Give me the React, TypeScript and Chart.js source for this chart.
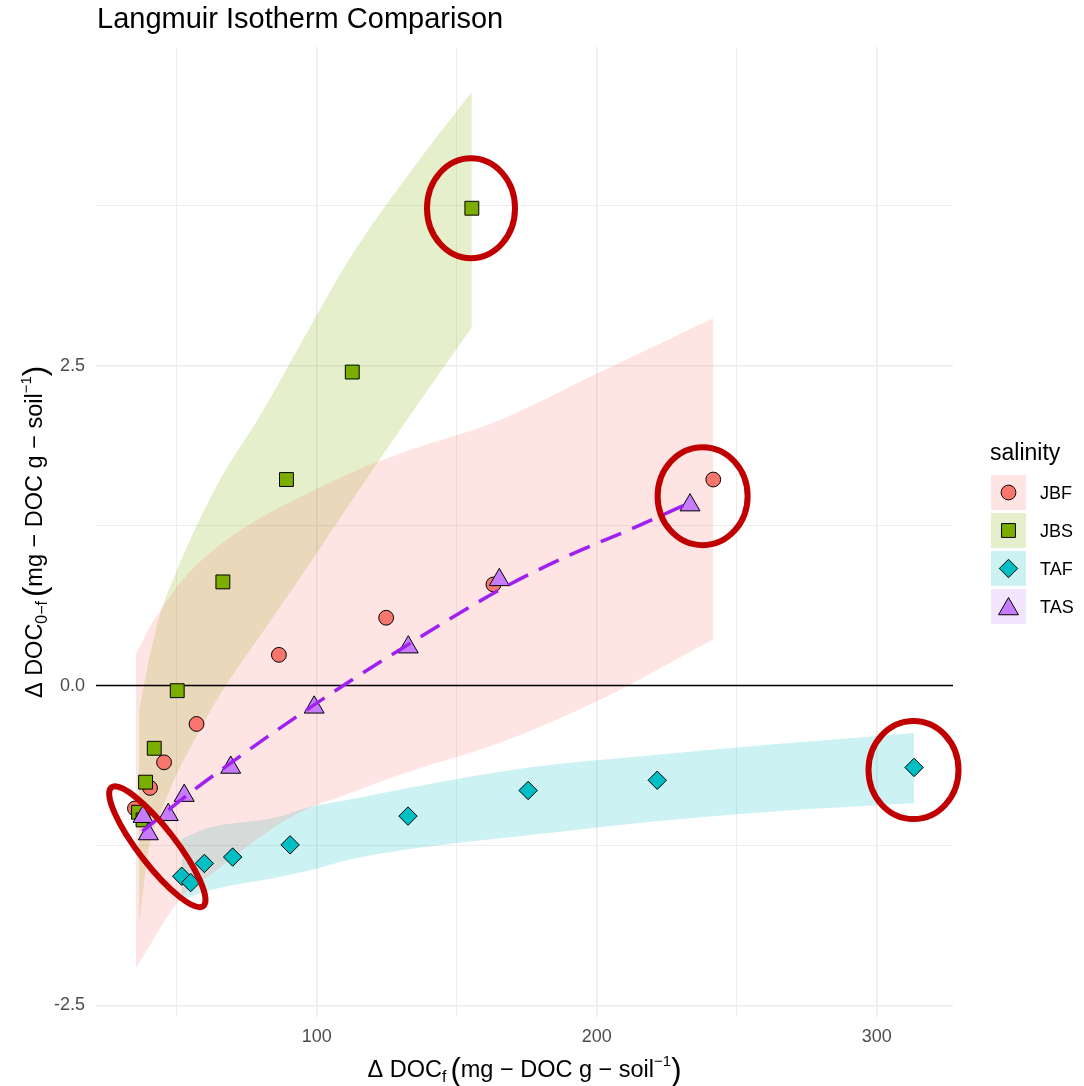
import React, { useEffect, useRef } from 'react';
import { Chart, registerables } from 'chart.js';
import { drawPoint } from 'chart.js/helpers';

Chart.register(...registerables);

const W = 1084;
const H = 1086;
const FONT = '"Liberation Sans", Arial, Helvetica, sans-serif';

// ---------- data ----------
const chartTitle = 'Langmuir Isotherm Comparison';
const legendTitle = 'salinity';
const seriesNames = ['JBF', 'JBS', 'TAF', 'TAS'];

const jbfX = [35.1, 40.5, 45.5, 57.1, 86.5, 124.8, 163.1, 241.6];
const jbfY = [-0.96, -0.8, -0.6, -0.3, 0.24, 0.53, 0.79, 1.61];

const jbsX = [36.4, 38.0, 38.9, 42.0, 50.2, 66.5, 89.2, 112.7, 155.4];
const jbsY = [-0.99, -1.05, -0.755, -0.49, -0.04, 0.81, 1.61, 2.45, 3.73];

const tafX = [51.8, 55.0, 59.9, 70.0, 90.5, 132.6, 175.5, 221.6, 313.3];
const tafY = [-1.49, -1.54, -1.39, -1.34, -1.245, -1.02, -0.82, -0.74, -0.64];

const tasX = [38.0, 39.9, 47.0, 52.7, 69.3, 99.1, 132.7, 165.2, 233.3];
const tasY = [-1.025, -1.16, -1.01, -0.86, -0.64, -0.17, 0.3, 0.826, 1.41];

// fitted Langmuir curve for TAS (dashed)
const tasFitX = [37.7, 54.7, 69.0, 85.7, 109.5, 130.4, 165.5, 189.3, 213.0, 233.3];
const tasFitY = [-1.14, -0.84, -0.61, -0.35, 0.0, 0.29, 0.75, 1.01, 1.23, 1.43];

// prediction ribbons
const jbfBandX = [35.4, 40.5, 46.5, 52.3, 62.0, 72.6, 83.3, 94.0, 111.9, 133.3, 163.7, 201.2, 241.5];
const jbfBandHi = [0.24, 0.46, 0.66, 0.83, 1.04, 1.21, 1.35, 1.47, 1.66, 1.84, 2.06, 2.45, 2.87];
const jbfBandLo = [-2.21, -2.03, -1.81, -1.64, -1.48, -1.3, -1.13, -0.99, -0.84, -0.67, -0.46, -0.11, 0.36];

const jbsBandX = [36.6, 38.7, 40.5, 44.0, 49.4, 54.8, 65.5, 79.8, 94.0, 113.0, 133.3, 155.4];
const jbsBandHi = [-0.19, 0.045, 0.24, 0.55, 0.865, 1.14, 1.61, 2.11, 2.66, 3.38, 4.01, 4.64];
const jbsBandLo = [-1.87, -1.48, -1.22, -1.01, -0.72, -0.49, -0.07, 0.39, 0.84, 1.46, 2.11, 2.8];

const tafBandX = [51.8, 60.1, 85.8, 96.5, 111.9, 132.6, 175.5, 221.5, 265.5, 313.3];
const tafBandHi = [-1.2, -1.12, -1.03, -0.955, -0.89, -0.8, -0.64, -0.54, -0.455, -0.37];
const tafBandLo = [-1.68, -1.61, -1.5, -1.45, -1.36, -1.28, -1.17, -1.06, -0.98, -0.92];

// axes
const xLimits = [21.2, 327.2];
const yLimits = [-2.59, 4.99];
const xGridValues = [50, 100, 150, 200, 250, 300];
const xTickLabels = ['', '100', '', '200', '', '300'];
const yGridValues = [-2.5, -1.25, 0, 1.25, 2.5, 3.75];
const yTickLabels = ['-2.5', '', '0.0', '', '2.5', ''];
const referenceLineY = 0;

// highlight ellipses (centres in data units)
const highlightX = [155.1, 237.8, 313.1, 43.1];
const highlightY = [3.73, 1.48, -0.66, -1.26];

// ---------- styles ----------
const seriesColors = ['#F8766D', '#7CAE00', '#00BFC4', '#C77CFF'];
const ribbonFills = ['rgba(248,118,109,0.2)', 'rgba(124,174,0,0.2)', 'rgba(0,191,196,0.2)', 'rgba(199,124,255,0.2)'];
const pointStyles = ['circle', 'rect', 'rectRot', 'triangle'];
const pointRadii = [7.4, 9.8, 9.2, 11.5];
const fitColor = '#A020F0';
const highlightColor = '#C00000';
const highlightSizes = [
  { rx: 44, ry: 50, rot: 0 },
  { rx: 45, ry: 49, rot: 0 },
  { rx: 45, ry: 49, rot: 0 },
  { rx: 75, ry: 18.5, rot: (52.3 * Math.PI) / 180 },
];

const pts = (xs: number[], ys: number[]) => xs.map((x, i) => ({ x, y: ys[i] }));

type Run = { t: string; s: number; dy?: number; gap?: number };

function drawRuns(ctx: CanvasRenderingContext2D, runs: Run[], cx: number, cy: number, rotate: boolean) {
  ctx.save();
  ctx.translate(cx, cy);
  if (rotate) ctx.rotate(-Math.PI / 2);
  ctx.textBaseline = 'alphabetic';
  ctx.textAlign = 'left';
  ctx.fillStyle = '#000';
  let total = 0;
  const widths = runs.map((r) => {
    ctx.font = `${r.s}px ${FONT}`;
    const w = ctx.measureText(r.t).width + (r.gap || 0);
    total += w;
    return w;
  });
  let x = -total / 2;
  runs.forEach((r, i) => {
    ctx.font = `${r.s}px ${FONT}`;
    ctx.fillText(r.t, x + (r.gap || 0), r.dy || 0);
    x += widths[i];
  });
  ctx.restore();
}

const xTitleRuns: Run[] = [
  { t: 'Δ DOC', s: 23.5 },
  { t: 'f', s: 16, dy: 5 },
  { t: '(', s: 31, dy: 3, gap: 4 },
  { t: 'mg − DOC g − soil', s: 23.5 },
  { t: '−1', s: 15, dy: -11 },
  { t: ')', s: 31, dy: 3 },
];
const yTitleRuns: Run[] = [
  { t: 'Δ DOC', s: 23.5 },
  { t: '0−f', s: 16, dy: 5 },
  { t: '(', s: 31, dy: 3, gap: 4 },
  { t: 'mg − DOC g − soil', s: 23.5 },
  { t: '−1', s: 15, dy: -11 },
  { t: ')', s: 31, dy: 3 },
];

const decorPlugin = {
  id: 'decor',
  afterDatasetsDraw(chart: any) {
    const { ctx, scales } = chart;
    const xs = scales.x;
    const ys = scales.y;
    ctx.save();
    ctx.strokeStyle = highlightColor;
    ctx.lineWidth = 6;
    highlightX.forEach((hx, i) => {
      const sz = highlightSizes[i];
      ctx.beginPath();
      ctx.ellipse(xs.getPixelForValue(hx), ys.getPixelForValue(highlightY[i]), sz.rx, sz.ry, sz.rot, 0, Math.PI * 2);
      ctx.stroke();
    });
    ctx.restore();
  },
  afterDraw(chart: any) {
    const { ctx, chartArea } = chart;
    ctx.save();
    // title
    ctx.fillStyle = '#000';
    ctx.font = `29px ${FONT}`;
    ctx.textAlign = 'left';
    ctx.textBaseline = 'alphabetic';
    ctx.fillText(chartTitle, chartArea.left + 1, 28);
    // axis titles
    drawRuns(ctx, xTitleRuns, (chartArea.left + chartArea.right) / 2, 1077, false);
    drawRuns(ctx, yTitleRuns, 42, (chartArea.top + chartArea.bottom) / 2, true);
    // legend
    const lx = 990;
    ctx.font = `23px ${FONT}`;
    ctx.fillStyle = '#000';
    ctx.fillText(legendTitle, lx, 460);
    seriesNames.forEach((name, i) => {
      const top = 475 + i * 38;
      ctx.fillStyle = ribbonFills[i];
      ctx.fillRect(lx + 1, top, 35, 35);
      ctx.fillStyle = seriesColors[i];
      ctx.strokeStyle = '#000';
      ctx.lineWidth = 1;
      drawPoint(ctx, { pointStyle: pointStyles[i], radius: pointRadii[i], borderWidth: 1, rotation: 0 } as any, lx + 18.5, top + 17.5 + (i === 3 ? 2.5 : 0));
      ctx.fillStyle = '#000';
      ctx.font = `18px ${FONT}`;
      ctx.fillText(name, lx + 50, top + 24);
    });
    ctx.restore();
  },
};

export default function App() {
  const ref = useRef<HTMLCanvasElement>(null);
  useEffect(() => {
    const canvas = ref.current;
    if (!canvas) return;
    Chart.defaults.font.family = FONT;

    const bands = [
      { idx: 0, x: jbfBandX, hi: jbfBandHi, lo: jbfBandLo },
      { idx: 1, x: jbsBandX, hi: jbsBandHi, lo: jbsBandLo },
      { idx: 2, x: tafBandX, hi: tafBandHi, lo: tafBandLo },
    ];
    const bandSets: any[] = [];
    bands.forEach((b) => {
      bandSets.push({
        type: 'line',
        data: pts(b.x, b.hi),
        fill: '+1',
        backgroundColor: ribbonFills[b.idx],
        borderColor: 'rgba(0,0,0,0)',
        borderWidth: 0,
        pointRadius: 0,
        cubicInterpolationMode: 'monotone',
        order: 20,
      });
      bandSets.push({
        type: 'line',
        data: pts(b.x, b.lo),
        fill: false,
        borderColor: 'rgba(0,0,0,0)',
        borderWidth: 0,
        pointRadius: 0,
        cubicInterpolationMode: 'monotone',
        order: 20,
      });
    });

    const seriesX = [jbfX, jbsX, tafX, tasX];
    const seriesY = [jbfY, jbsY, tafY, tasY];
    const pointSets = seriesNames.map((name, i) => ({
      type: 'scatter',
      label: name,
      data: pts(seriesX[i], seriesY[i]),
      pointStyle: pointStyles[i],
      pointRadius: pointRadii[i],
      backgroundColor: seriesColors[i],
      borderColor: '#000',
      borderWidth: 1,
      order: 8 - i,
    }));

    const chart = new Chart(canvas, {
      type: 'scatter',
      data: {
        datasets: [
          ...bandSets,
          {
            type: 'line',
            data: [
              { x: xLimits[0], y: referenceLineY },
              { x: xLimits[1], y: referenceLineY },
            ],
            borderColor: '#000',
            borderWidth: 1.6,
            pointRadius: 0,
            fill: false,
            order: 10,
          },
          ...pointSets,
          {
            type: 'line',
            data: pts(tasFitX, tasFitY),
            borderColor: fitColor,
            borderWidth: 3.5,
            borderDash: [22, 12],
            pointRadius: 0,
            fill: false,
            cubicInterpolationMode: 'monotone',
            order: 1,
          },
        ] as any,
      },
      options: {
        responsive: false,
        animation: false,
        events: [],
        layout: { padding: { top: 47, right: 131, left: 0, bottom: 0 } },
        plugins: {
          legend: { display: false },
          tooltip: { enabled: false },
          title: { display: false },
        },
        scales: {
          x: {
            type: 'linear',
            min: xLimits[0],
            max: xLimits[1],
            afterBuildTicks: (s: any) => {
              s.ticks = xGridValues.map((v) => ({ value: v }));
            },
            afterFit: (s: any) => {
              s.height = 69;
            },
            border: { display: false },
            grid: {
              drawTicks: false,
              color: '#EBEBEB',
              lineWidth: (c: any) => (c.index % 2 === 1 ? 1.6 : 0.9),
            },
            ticks: {
              padding: 9,
              color: '#4D4D4D',
              font: { size: 18, family: FONT },
              maxRotation: 0,
              autoSkip: false,
              callback: (_v: any, i: number) => xTickLabels[i],
            },
          },
          y: {
            type: 'linear',
            min: yLimits[0],
            max: yLimits[1],
            afterBuildTicks: (s: any) => {
              s.ticks = yGridValues.map((v) => ({ value: v }));
            },
            afterFit: (s: any) => {
              s.width = 96;
            },
            border: { display: false },
            grid: {
              drawTicks: false,
              color: '#EBEBEB',
              lineWidth: (c: any) => (c.index % 2 === 0 ? 1.6 : 0.9),
            },
            ticks: {
              padding: 11,
              color: '#4D4D4D',
              font: { size: 18, family: FONT },
              autoSkip: false,
              callback: (_v: any, i: number) => yTickLabels[i],
            },
          },
        },
      } as any,
      plugins: [decorPlugin],
    });
    return () => chart.destroy();
  }, []);

  return (
    <div style={{ position: 'absolute', left: 0, top: 0, width: W, height: H, background: '#fff' }}>
      <canvas ref={ref} width={W} height={H} style={{ width: W, height: H, display: 'block' }} />
    </div>
  );
}
